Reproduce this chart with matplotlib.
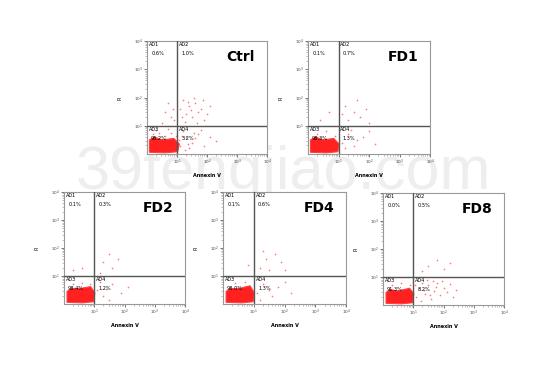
import numpy as np
import matplotlib.pyplot as plt
from matplotlib.ticker import LogLocator, NullFormatter

# panel names and quadrant percentages (AD1, AD2, AD3, AD4)
panels = ['Ctrl', 'FD1', 'FD2', 'FD4', 'FD8']
ad1 = ['0.6%', '0.1%', '0.1%', '0.1%', '0.0%']
ad2 = ['1.0%', '0.7%', '0.3%', '0.6%', '0.5%']
ad3 = ['95.2%', '98.3%', '98.4%', '98.0%', '91.3%']
ad4 = ['3.2%', '1.3%', '1.2%', '1.3%', '8.2%']

# dense main population outline (log10 Annexin V, log10 PI)
blob = {
    'Ctrl': [(0.08, 0.06), (0.6, 0.04), (1.02, 0.08), (1.08, 0.35), (0.9, 0.55), (0.5, 0.5), (0.25, 0.6), (0.08, 0.5)],
    'FD1': [(0.08, 0.06), (0.6, 0.04), (0.98, 0.08), (1.02, 0.35), (0.85, 0.55), (0.5, 0.5), (0.25, 0.6), (0.08, 0.5)],
    'FD2': [(0.1, 0.06), (0.6, 0.04), (0.98, 0.08), (1.02, 0.4), (0.88, 0.62), (0.5, 0.55), (0.25, 0.55), (0.1, 0.45)],
    'FD4': [(0.1, 0.06), (0.6, 0.04), (0.98, 0.08), (1.02, 0.4), (0.88, 0.65), (0.5, 0.55), (0.25, 0.55), (0.1, 0.45)],
    'FD8': [(0.1, 0.06), (0.6, 0.04), (0.98, 0.08), (1.02, 0.4), (0.88, 0.6), (0.5, 0.5), (0.25, 0.55), (0.1, 0.45)],
}

# sparse events (log10 Annexin V, log10 PI)
events = {
    'Ctrl': [(1.2, 1.9), (1.4, 1.7), (1.6, 1.8), (1.8, 1.6), (1.3, 1.4), (1.5, 1.3), (1.7, 1.5), (1.9, 1.2),
             (1.1, 1.6), (1.25, 1.15), (1.45, 1.55), (2.0, 1.4), (1.65, 1.1), (1.35, 1.85), (1.55, 2.0),
             (1.85, 1.9), (2.1, 1.7), (1.15, 1.3), (0.6, 1.5), (0.8, 1.3), (0.7, 1.8), (0.9, 1.2),
             (0.5, 1.1), (0.85, 1.6), (1.1, 0.3), (1.3, 0.6), (1.5, 0.4), (1.7, 0.7), (1.2, 0.8),
             (1.4, 0.2), (1.6, 0.55), (1.9, 0.3), (2.1, 0.6), (1.05, 0.5), (1.25, 0.15), (1.8, 0.85),
             (2.3, 0.45), (1.35, 0.35), (1.55, 0.75), (1.15, 0.65), (0.2, 0.7), (0.4, 0.75),
             (0.6, 0.65), (0.8, 0.75), (0.3, 0.85), (0.95, 0.62), (0.7, 0.88)],
    'FD1': [(1.2, 1.7), (1.5, 1.5), (1.7, 1.3), (1.3, 1.2), (1.9, 1.6), (1.6, 1.9), (1.1, 1.4), (2.0, 1.1),
            (0.4, 1.2), (0.7, 1.5), (1.1, 0.4), (1.3, 0.7), (1.5, 0.3), (1.8, 0.6), (2.0, 0.8),
            (1.2, 0.2), (1.6, 0.5), (1.4, 0.85), (2.2, 0.35), (0.3, 0.7), (0.6, 0.8), (0.9, 0.65)],
    'FD2': [(1.3, 1.5), (1.6, 1.3), (1.8, 1.6), (1.2, 1.1), (1.5, 1.8), (0.3, 1.2), (0.6, 1.3),
            (1.1, 0.5), (1.3, 0.3), (1.6, 0.7), (1.9, 0.4), (1.2, 0.8), (1.5, 0.15), (2.1, 0.6),
            (1.4, 0.55), (0.3, 0.7), (0.6, 0.75), (0.85, 0.7)],
    'FD4': [(1.2, 1.3), (1.4, 1.6), (1.7, 1.8), (1.5, 1.2), (1.9, 1.5), (1.3, 1.9), (2.0, 1.2),
            (0.8, 1.4), (1.1, 0.4), (1.3, 0.7), (1.6, 0.3), (1.8, 0.6), (2.0, 0.8), (1.2, 0.15),
            (1.5, 0.5), (2.2, 0.4), (0.4, 0.75), (0.7, 0.8)],
    'FD8': [(1.5, 1.4), (1.8, 1.6), (2.0, 1.3), (1.3, 1.2), (2.2, 1.5), (1.1, 0.3), (1.2, 0.6),
            (1.3, 0.8), (1.4, 0.4), (1.5, 0.7), (1.6, 0.2), (1.7, 0.5), (1.8, 0.8), (1.9, 0.35),
            (2.0, 0.6), (2.1, 0.45), (2.2, 0.75), (2.3, 0.3), (1.25, 0.15), (1.45, 0.9),
            (1.65, 0.85), (1.35, 0.55), (1.55, 0.35), (1.75, 0.65), (1.95, 0.85), (2.4, 0.55),
            (1.05, 0.7), (0.3, 0.7), (0.6, 0.8), (0.9, 0.7)],
}

# axes boxes in figure fractions [left, bottom, width, height]
W, H = 550, 366
boxes = {
    'Ctrl': [147 / W, 1 - 154 / H, 120 / W, 113 / H],
    'FD1': [308 / W, 1 - 154 / H, 122 / W, 113 / H],
    'FD2': [64 / W, 1 - 304 / H, 121 / W, 112 / H],
    'FD4': [223 / W, 1 - 304 / H, 123 / W, 112 / H],
    'FD8': [383 / W, 1 - 305 / H, 121 / W, 112 / H],
}

fig = plt.figure(figsize=(5.5, 3.66), dpi=100)
fig.text(0.515, 0.525, '39fengjiao.com', fontsize=44, color='#eeeeee',
         family='Liberation Sans', ha='center', va='center', zorder=0)

red = '#ff2020'
for i, name in enumerate(panels):
    ax = fig.add_axes(boxes[name])
    ax.set_zorder(1)
    ax.set_facecolor('white')
    ax.set_xscale('log')
    ax.set_yscale('log')
    ax.set_xlim(1, 1e4)
    ax.set_ylim(1, 1e4)

    bx, by = zip(*blob[name])
    ax.fill(10 ** np.array(bx), 10 ** np.array(by), color=red, lw=0.8, ec='#ff4040', zorder=2)
    ex, ey = zip(*events[name])
    ax.scatter(10 ** np.array(ex), 10 ** np.array(ey), s=1.5, color='#ff7a7a', lw=0, zorder=2)

    ax.axvline(10, color='#555555', lw=1.0, zorder=3)
    ax.axhline(10, color='#555555', lw=1.0, zorder=3)

    fs = 3.6
    ax.text(0.015, 0.99, 'AD1', transform=ax.transAxes, fontsize=fs, va='top')
    ax.text(0.04, 0.91, ad1[i], transform=ax.transAxes, fontsize=fs, va='top')
    ax.text(0.265, 0.99, 'AD2', transform=ax.transAxes, fontsize=fs, va='top')
    ax.text(0.285, 0.91, ad2[i], transform=ax.transAxes, fontsize=fs, va='top')
    ax.text(0.015, 0.24, 'AD3', transform=ax.transAxes, fontsize=fs, va='top')
    ax.text(0.03, 0.16, ad3[i], transform=ax.transAxes, fontsize=fs, va='top')
    ax.text(0.265, 0.24, 'AD4', transform=ax.transAxes, fontsize=fs, va='top')
    ax.text(0.285, 0.16, ad4[i], transform=ax.transAxes, fontsize=fs, va='top')

    ax.text(0.78, 0.86, name, transform=ax.transAxes, fontsize=10,
            fontweight='bold', ha='center', va='center')

    ax.set_xticks([10, 100, 1000, 10000])
    ax.set_yticks([10, 100, 1000, 10000])
    ax.set_xticklabels([r'$10^1$', r'$10^2$', r'$10^3$', r'$10^4$'])
    ax.set_yticklabels([r'$10^1$', r'$10^2$', r'$10^3$', r'$10^4$'])
    ax.xaxis.set_minor_locator(LogLocator(base=10, subs=np.arange(2, 10)))
    ax.yaxis.set_minor_locator(LogLocator(base=10, subs=np.arange(2, 10)))
    ax.xaxis.set_minor_formatter(NullFormatter())
    ax.yaxis.set_minor_formatter(NullFormatter())
    ax.tick_params(which='major', labelsize=3, length=2, width=0.5, pad=1, colors='#444444')
    ax.tick_params(which='minor', length=1.2, width=0.4, colors='#888888')
    for sp in ax.spines.values():
        sp.set_color('#999999')
        sp.set_linewidth(0.8)

    ax.set_xlabel('Annexin V', fontsize=3.5, labelpad=4, fontweight='bold')
    ax.set_ylabel('PI', fontsize=3.5, labelpad=8)

fig.savefig('out.png', dpi=100)
